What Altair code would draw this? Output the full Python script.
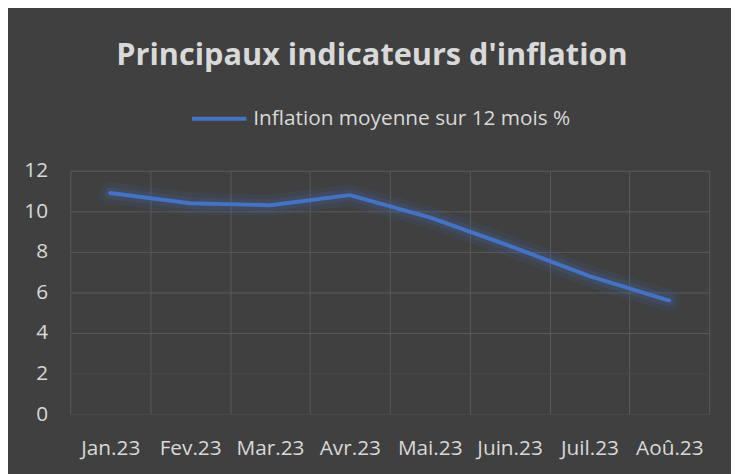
import altair as alt
import pandas as pd

months = ["Jan.23", "Fev.23", "Mar.23", "Avr.23", "Mai.23", "Juin.23", "Juil.23", "Aoû.23"]
inflation = [10.9, 10.4, 10.3, 10.8, 9.7, 8.3, 6.8, 5.6]
series_name = "Inflation moyenne sur 12 mois %"
y_ticks = [0, 2, 4, 6, 8, 10, 12]

df = pd.DataFrame({"mois": months, "valeur": inflation, "serie": [series_name] * len(months)})

TXT = "#d9d9d9"
FONT = "Open Sans"

x_enc = alt.X(
    "mois:N", sort=months, title=None,
    scale=alt.Scale(type="band", paddingInner=0, paddingOuter=0),
    axis=alt.Axis(labelAngle=0, labelFontSize=21, labelColor=TXT, labelFont=FONT,
                  grid=True, gridColor="#5a5a5a", gridWidth=1, tickBand="extent",
                  ticks=False, domain=False, labelPadding=41, labelBaseline="alphabetic"),
)
y_enc = alt.Y(
    "valeur:Q", title=None, scale=alt.Scale(domain=[0, 12], nice=False),
    axis=alt.Axis(values=y_ticks, labelFontSize=21, labelColor=TXT, labelFont=FONT,
                  grid=True, gridWidth=1,
                  gridColor={"condition": {"test": "datum.value <= 2", "value": "#4a4a4a"}, "value": "#5a5a5a"},
                  ticks=False, domain=False, labelPadding=23, labelBaseline="middle"),
)

base = alt.Chart(df)
glow1 = base.mark_line(color="#4472C4", strokeWidth=22, opacity=0.09, strokeCap="round", strokeJoin="round").encode(
    x=x_enc, y=y_enc)
glow2 = base.mark_line(color="#4472C4", strokeWidth=12, opacity=0.16, strokeCap="round", strokeJoin="round").encode(
    x=x_enc, y=y_enc)
main = base.mark_line(strokeWidth=4, strokeCap="round", strokeJoin="round").encode(
    x=x_enc, y=y_enc,
    color=alt.Color("serie:N", scale=alt.Scale(range=["#4472C4"]),
                    legend=alt.Legend(orient="none", legendX=121, legendY=-82, title=None,
                                      symbolType="stroke", symbolSize=3025, symbolStrokeWidth=4,
                                      labelFontSize=21, labelColor=TXT, labelFont=FONT, labelOffset=5,
                                      labelLimit=0)),
)

chart = alt.layer(glow1, glow2, main).properties(
    width=646, height=246,
    autosize=alt.AutoSizeParams(type="none"),
    padding={"left": 63, "top": 162, "right": 22, "bottom": 58},
    background="#404040",
    title=alt.TitleParams("Principaux indicateurs d'inflation", font=FONT, fontSize=31,
                          fontWeight="bold", color=TXT, anchor="middle", dx=-18, offset=18),
).configure_view(stroke=None)

chart.save("out.html", embed_options={"renderer": "svg", "actions": False})
